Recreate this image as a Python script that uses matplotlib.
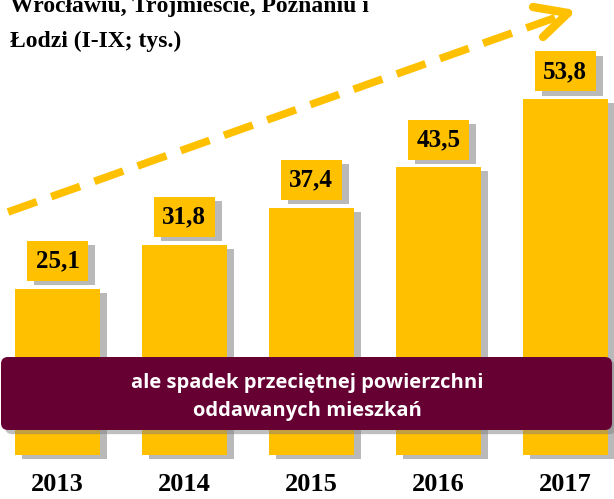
import matplotlib
matplotlib.use("Agg")
import matplotlib.pyplot as plt
from matplotlib.patches import FancyBboxPatch
from matplotlib.lines import Line2D
from matplotlib.transforms import IdentityTransform
import matplotlib.patheffects as pe

years = ["2013", "2014", "2015", "2016", "2017"]
values = [25.1, 31.8, 37.4, 43.5, 53.8]
value_labels = ["25,1", "31,8", "37,4", "43,5", "53,8"]
title_lines = ["Wrocławiu, Trójmieście, Poznaniu i", "Łodzi (I-IX; tys.)"]
note = "ale spadek przeciętnej powierzchni\noddawanych mieszkań"

GOLD = "#FFC000"
MAROON = "#660033"
W, H = 614, 499

fig = plt.figure(figsize=(W / 100, H / 100), dpi=100)
fig.patch.set_facecolor("white")
ax = fig.add_axes([0, 0, 1, 1])
ax.axis("off")
ax.set_xlim(-0.453, 4.385)
ax.set_ylim(-6.66, 68.8)

shadow = [pe.SimplePatchShadow(offset=(5, -3), shadow_rgbFace="#808080", alpha=0.55), pe.Normal()]
xs = list(range(len(years)))
bars = ax.bar(xs, values, width=0.67, color=GOLD, zorder=2)
for b in bars:
    b.set_path_effects(shadow)

serif = "Liberation Serif"
for x, v, lab in zip(xs, values, value_labels):
    t = ax.annotate(lab, xy=(x, v), xytext=(0, 20), textcoords="offset points",
                    ha="center", va="center", fontsize=18, fontweight="bold",
                    family=serif, color="black", zorder=4,
                    bbox=dict(boxstyle="square,pad=0.34", fc=GOLD, ec="none"))
    t.get_bbox_patch().set_path_effects(shadow)

for x, y in zip(xs, years):
    ax.text(x, -4.4, y, ha="center", va="center", fontsize=19, fontweight="bold",
            family=serif, color="black")

# title (partly cut off at the top, as in the source)
fig.text(10 / W, 1 - 12 / H, title_lines[0], ha="left", va="baseline",
         fontsize=17, fontweight="bold", family=serif)
fig.text(10 / W, 1 - 47 / H, title_lines[1], ha="left", va="baseline",
         fontsize=17, fontweight="bold", family=serif)

# dashed trend arrow (pixel coords, y from top)
def px(x, y):
    return x, H - y

x0, y0 = px(8, 212)
x1, y1 = px(560, 16)
line = Line2D([x0, x1], [y0, y1], transform=IdentityTransform(), color=GOLD,
              linewidth=5.5, dashes=(4, 2), dash_capstyle="butt", zorder=5)
fig.add_artist(line)
tip = px(568, 13)
for arm in [px(533, 7), px(543, 37)]:
    fig.add_artist(Line2D([arm[0], tip[0]], [arm[1], tip[1]], transform=IdentityTransform(),
                          color=GOLD, linewidth=6, solid_capstyle="round", zorder=5))

# maroon note box
box = FancyBboxPatch((1, H - 430), W - 3, 73, boxstyle="round,pad=0,rounding_size=7",
                     transform=IdentityTransform(), fc=MAROON, ec="none", zorder=6)
box.set_path_effects([pe.SimplePatchShadow(offset=(3, -3), shadow_rgbFace="#808080", alpha=0.5), pe.Normal()])
fig.add_artist(box)
fig.text(0.5, 1 - 397 / H, note, ha="center", va="center", color="white",
         fontsize=14.5, fontweight="bold", family="Open Sans", linespacing=1.5, zorder=7)

fig.savefig("out.png", dpi=100, facecolor="white")
